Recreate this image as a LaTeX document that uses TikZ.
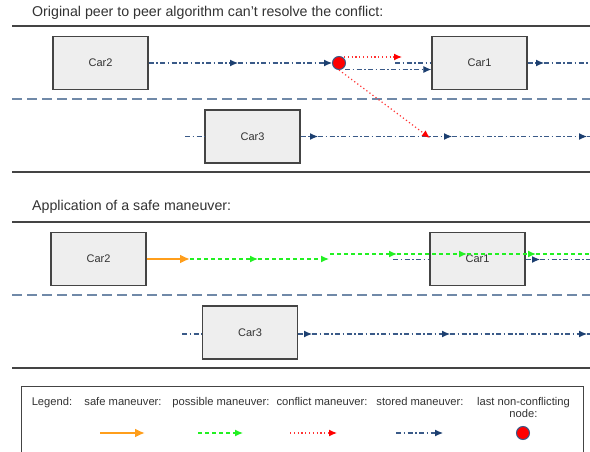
\documentclass[tikz,border=0pt]{standalone}
\usepackage{fontspec}
\setmainfont{Liberation Sans}
\usetikzlibrary{arrows.meta}
\definecolor{storedc}{HTML}{3A5A88}
\definecolor{tipc}{HTML}{1C3F70}
\definecolor{lanec}{HTML}{7089A8}
\definecolor{rulec}{HTML}{444444}
\definecolor{carfill}{HTML}{EEEEEE}
\definecolor{greenc}{HTML}{22F022}
\definecolor{orangec}{HTML}{FF9E1B}
\definecolor{textc}{HTML}{333333}
\tikzset{
  car/.style={draw=rulec, line width=1.3pt, fill=carfill, minimum width=95pt, minimum height=53pt,
    text=textc, font=\fontsize{11}{13}\selectfont},
  title/.style={anchor=west, text=textc, font=\fontsize{14.2}{16}\selectfont, inner sep=0pt},
  legtext/.style={text=textc, font=\fontsize{11.2}{12.5}\selectfont, inner sep=0pt, align=center, anchor=north},
  sectionrule/.style={draw=rulec, line width=1.5pt},
  lane/.style={draw=lanec, line width=2pt, dash pattern=on 10pt off 5pt},
  stored/.style={draw=storedc, line width=1.1pt, dash pattern=on 5pt off 2.5pt on 1.5pt off 2.5pt},
  storedtip/.style={stored, -{Latex[length=8pt,width=7pt,color=tipc]}},
  possible/.style={draw=greenc, line width=1.3pt, dash pattern=on 4pt off 3pt},
  possibletip/.style={possible, -{Latex[length=8pt,width=7pt]}},
  conflict/.style={draw=red!80, line width=1.2pt, dash pattern=on 1.2pt off 2.6pt},
  conflicttip/.style={conflict, -{Latex[length=8pt,width=7pt,color=red]}},
  safe/.style={draw=orangec, line width=2.2pt, -{Latex[length=10pt,width=9pt]}},
  lastnode/.style={circle, draw=storedc, line width=1pt, fill=red, minimum size=13pt, inner sep=0pt},
}
\begin{document}
\begin{tikzpicture}[x=1pt,y=-1pt]
\useasboundingbox (0,0) rectangle (590,452);
\fill[white] (0,0) rectangle (590,452);

% ---------- Section 1 ----------
\node[title] (t1) at (32,13) {Original peer to peer algorithm can't resolve the conflict:};
\coordinate (r1a) at (12,26); \coordinate (r1b) at (590,26);
\draw[sectionrule] (r1a) -- (r1b);
\coordinate (l1a) at (12,99); \coordinate (l1b) at (590,99);
\draw[lane] (l1a) -- (l1b);
\coordinate (r2a) at (12,172); \coordinate (r2b) at (590,172);
\draw[sectionrule] (r2a) -- (r2b);

\node[car] (car2a) at (100.5,63) {Car2};
\node[car] (car1a) at (479.5,63) {Car1};
\node[car] (car3a) at (252.5,136.5) {Car3};
\node[lastnode] (dota) at (339,63) {};

\coordinate (m1) at (238,63);
\draw[storedtip] (car2a.east) -- (m1);
\draw[storedtip] (m1) -- (dota.west);
\coordinate (s1) at (395,63);
\draw[stored] (s1) -- (car1a.west);
\coordinate (s2) at (345,69.5);
\draw[storedtip] (s2) -- (s2 -| car1a.west);
\coordinate (m2) at (544,63); \coordinate (e1) at (590,63);
\draw[storedtip] (car1a.east) -- (m2);
\draw[stored] (m2) -- (e1);
\coordinate (c3l) at (185,136.5);
\draw[stored] (c3l) -- (car3a.west);
\coordinate (m3) at (318,136.5); \coordinate (m4) at (452,136.5);
\coordinate (m5) at (587,136.5); \coordinate (e3) at (590,136.5);
\draw[storedtip] (car3a.east) -- (m3);
\draw[storedtip] (m3) -- (m4);
\draw[storedtip] (m4) -- (m5);
\draw[stored] (m5) -- (e3);

\coordinate (cf1a) at (344,57); \coordinate (cf1b) at (402,57);
\draw[conflicttip] (cf1a) -- (cf1b);
\coordinate (cf2b) at (430,138);
\draw[conflicttip] (dota.south) -- (cf2b);

% ---------- Section 2 ----------
\node[title] (t2) at (32,207) {Application of a safe maneuver:};
\coordinate (r3a) at (12,222); \coordinate (r3b) at (590,222);
\draw[sectionrule] (r3a) -- (r3b);
\coordinate (l2a) at (12,295); \coordinate (l2b) at (590,295);
\draw[lane] (l2a) -- (l2b);
\coordinate (r4a) at (12,368); \coordinate (r4b) at (590,368);
\draw[sectionrule] (r4a) -- (r4b);

\node[car] (car2b) at (98.5,259) {Car2};
\node[car] (car1b) at (477.5,259) {Car1};
\node[car] (car3b) at (250,332.5) {Car3};

\coordinate (sb1) at (393,259.5);
\draw[stored] (sb1) -- (sb1 -| car1b.west);
\coordinate (mb1) at (540,259.5); \coordinate (eb1) at (590,259.5);
\draw[storedtip] (car1b.east |- sb1) -- (mb1);
\draw[stored] (mb1) -- (eb1);

\coordinate (ob) at (190,259);
\draw[safe] (car2b.east) -- (ob);
\coordinate (gm1) at (258,259); \coordinate (gb1) at (329,259);
\draw[possibletip] (ob) -- (gm1);
\draw[possibletip] (gm1) -- (gb1);
\coordinate (gb2) at (330,254); \coordinate (gm2) at (397,254);
\coordinate (gm3) at (467,254); \coordinate (gm4) at (536,254);
\coordinate (gb3) at (590,254);
\draw[possibletip] (gb2) -- (gm2);
\draw[possibletip] (gm2) -- (gm3);
\draw[possibletip] (gm3) -- (gm4);
\draw[possible] (gm4) -- (gb3);

\coordinate (c3lb) at (182,334);
\draw[stored] (c3lb) -- (c3lb -| car3b.west);
\coordinate (mb3) at (312,334); \coordinate (mb4) at (450,334);
\coordinate (mb5) at (587,334); \coordinate (e3b) at (590,334);
\draw[storedtip] (car3b.east |- e3b) -- (mb3);
\draw[storedtip] (mb3) -- (mb4);
\draw[storedtip] (mb4) -- (mb5);
\draw[stored] (mb5) -- (e3b);

% ---------- Legend ----------
\node[draw=rulec, line width=1.2pt, minimum width=562pt, minimum height=80pt, anchor=north west] (legend) at (21,386) {};
\node[legtext] (lg0) at (52,397) {Legend:};
\node[legtext] (lg1) at (123,397) {safe maneuver:};
\node[legtext] (lg2) at (221,397) {possible maneuver:};
\node[legtext] (lg3) at (322,397) {conflict maneuver:};
\node[legtext] (lg4) at (420,397) {stored maneuver:};
\node[legtext] (lg5) at (523.5,397) {last non-conflicting\\node:};

\coordinate (la1) at (100,433); \coordinate (lb1) at (145,433);
\draw[safe] (la1) -- (lb1);
\coordinate (la2) at (198,433); \coordinate (lb2) at (243,433);
\draw[possibletip] (la2) -- (lb2);
\coordinate (la3) at (290,433); \coordinate (lb3) at (337,433);
\draw[conflicttip] (la3) -- (lb3);
\coordinate (la4) at (396,433); \coordinate (lb4) at (443,433);
\draw[storedtip] (la4) -- (lb4);
\node[lastnode] (dotl) at (523,433) {};
\end{tikzpicture}
\end{document}
